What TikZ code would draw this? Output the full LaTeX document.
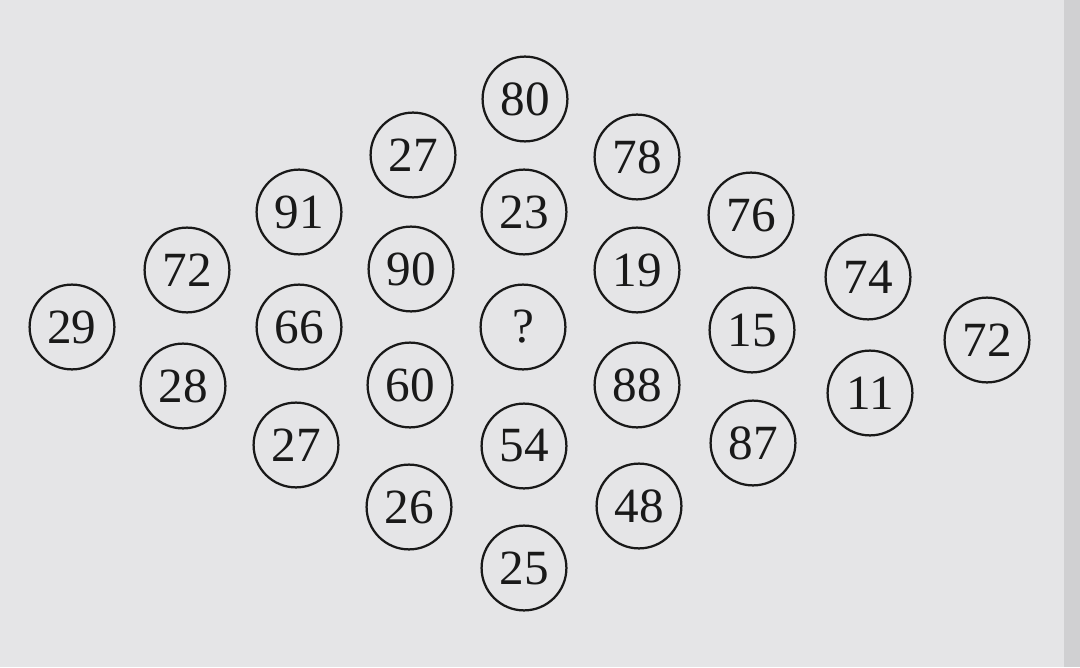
\documentclass[tikz,border=0pt]{standalone}
\usepackage{fontspec}
\setmainfont{Liberation Serif}
\definecolor{paper}{RGB}{229,229,231}
\definecolor{paperedge}{RGB}{208,208,210}
\definecolor{ink}{RGB}{25,25,25}
\begin{document}
\begin{tikzpicture}[x=0.025cm, y=0.025cm,
  ball/.style={circle, draw=ink, line width=1.6pt, minimum size=2.12cm, inner sep=0pt,
    text=ink, font=\fontsize{35}{38}\selectfont}]
\fill[paper] (0, 0) rectangle (1080, 667) ; % Page
\fill[paperedge] (1064, 0) rectangle (1080, 667) ; % Edge
\useasboundingbox (0, 0) rectangle (1080, 667) ;
\node[ball] (b0) at (72, 340) {29} ; % Col.0
\node[ball] (b1) at (187, 397) {72} ; % Col.1
\node[ball] (b2) at (183, 281) {28} ;
\node[ball] (b3) at (299, 455) {91} ; % Col.2
\node[ball] (b4) at (299, 340) {66} ;
\node[ball] (b5) at (296, 222) {27} ;
\node[ball] (b6) at (413, 512) {27} ; % Col.3
\node[ball] (b7) at (411, 398) {90} ;
\node[ball] (b8) at (410, 282) {60} ;
\node[ball] (b9) at (409, 160) {26} ;
\node[ball] (b10) at (525, 568) {80} ; % Col.4
\node[ball] (b11) at (524, 455) {23} ;
\node[ball] (b12) at (523, 340) {?} ;
\node[ball] (b13) at (524, 221) {54} ;
\node[ball] (b14) at (524, 99) {25} ;
\node[ball] (b15) at (637, 510) {78} ; % Col.5
\node[ball] (b16) at (637, 397) {19} ;
\node[ball] (b17) at (637, 282) {88} ;
\node[ball] (b18) at (639, 161) {48} ;
\node[ball] (b19) at (751, 452) {76} ; % Col.6
\node[ball] (b20) at (752, 337) {15} ;
\node[ball] (b21) at (753, 224) {87} ;
\node[ball] (b22) at (868, 390) {74} ; % Col.7
\node[ball] (b23) at (870, 274) {11} ;
\node[ball] (b24) at (987, 327) {72} ; % Col.8
\end{tikzpicture}
\end{document}
